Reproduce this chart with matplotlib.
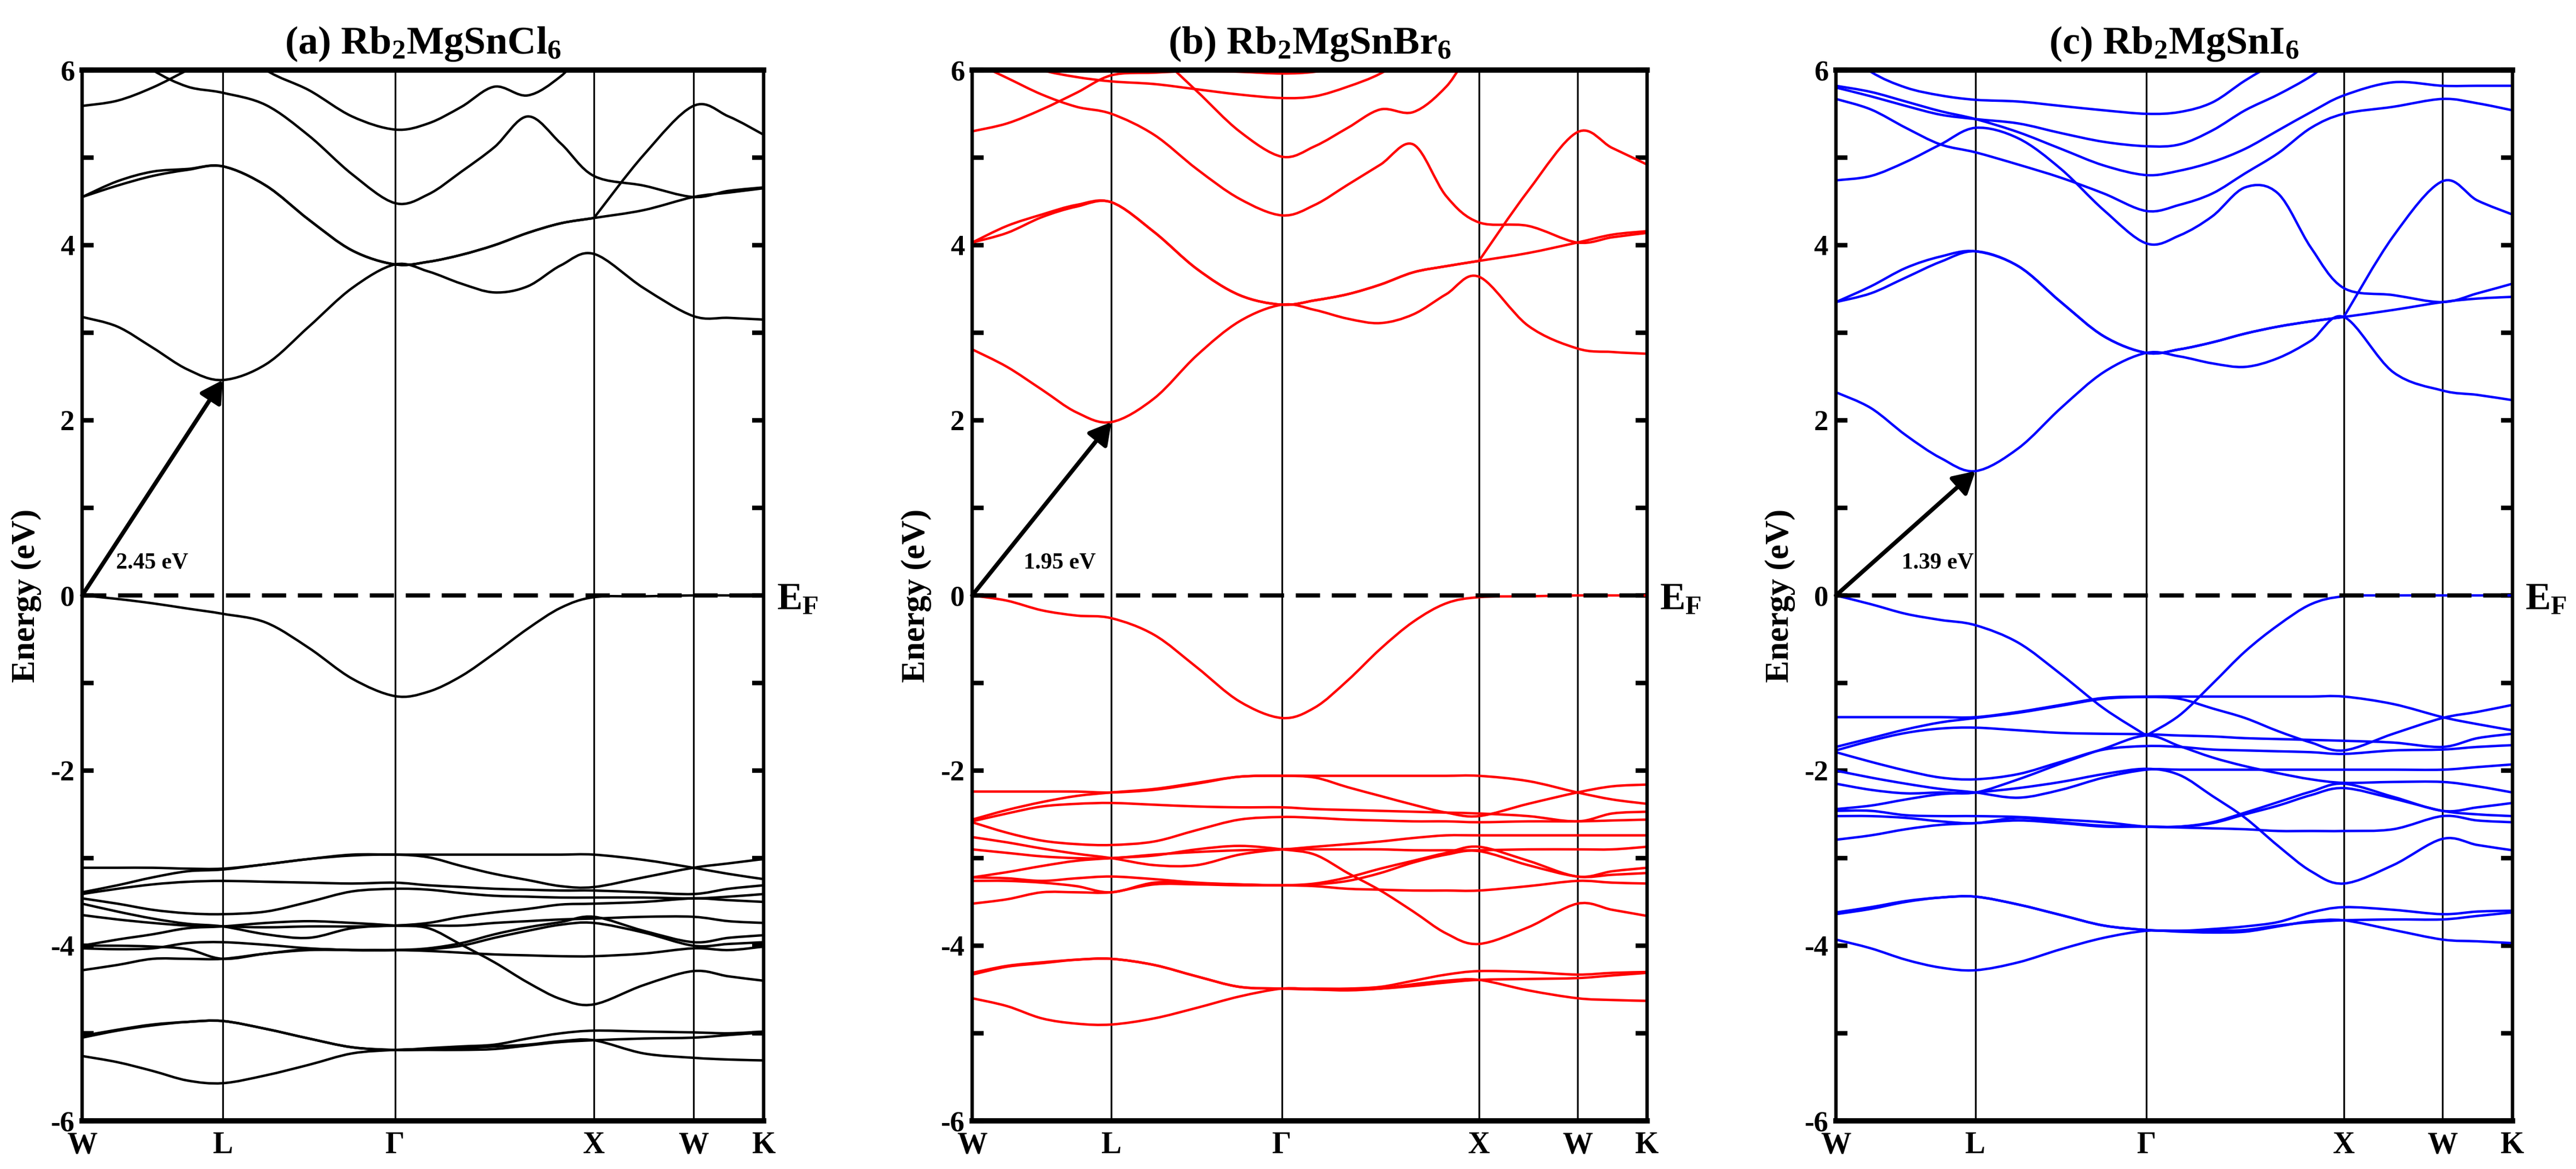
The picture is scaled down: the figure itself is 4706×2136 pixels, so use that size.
import matplotlib
matplotlib.use('Agg')
import matplotlib.pyplot as plt
from matplotlib.path import Path
from matplotlib.patches import PathPatch
from matplotlib.ticker import MultipleLocator
import numpy as np

plt.rcParams['font.family'] = ['Liberation Serif', 'DejaVu Serif']
plt.rcParams['font.weight'] = 'bold'
plt.rcParams['mathtext.fontset'] = 'custom'
plt.rcParams['mathtext.rm'] = 'Liberation Serif:bold'
plt.rcParams['mathtext.it'] = 'Liberation Serif:bold'
plt.rcParams['mathtext.bf'] = 'Liberation Serif:bold'
plt.rcParams['axes.unicode_minus'] = False

# k-path W-L-G-X-W-K (2pi/a units), sampling points
k_grid = [0.000, 0.177, 0.354, 0.530, 0.707,
          0.924, 1.140, 1.357, 1.573,
          1.740, 1.907, 2.073, 2.240, 2.407, 2.573,
          2.823, 3.073,
          3.250, 3.427]
k_ticks = [0.000, 0.707, 1.573, 2.573, 3.073, 3.427]
k_labels = ['W', 'L', '\u0393', 'X', 'W', 'K']

# ---------------- (a) Rb2MgSnCl6 ----------------
cl_cond = [
    [3.18, 3.07, 2.83, 2.58, 2.46, 2.64, 3.07, 3.51, 3.78, 3.70, 3.56, 3.46, 3.53, 3.77, 3.90, 3.51, 3.19, 3.17, 3.15],
    [4.55, 4.68, 4.79, 4.86, 4.90, 4.68, 4.29, 3.94, 3.78, 3.81, 3.89, 4.00, 4.14, 4.25, 4.31, 4.40, 4.55, 4.60, 4.65],
    [4.55, 4.73, 4.84, 4.87, 4.90, 4.68, 4.29, 3.94, 3.78, 3.81, 3.89, 4.00, 4.14, 4.25, 4.31, 5.03, 5.59, 5.47, 5.26],
    [6.60, 6.30, 6.00, 5.81, 5.74, 5.60, 5.25, 4.81, 4.48, 4.58, 4.84, 5.12, 5.47, 5.16, 4.79, 4.68, 4.55, 4.62, 4.66],
    [5.59, 5.65, 5.80, 6.00, 6.20, 6.40, 6.50, 6.50, 6.50, 6.50, 6.50, 6.50, 6.50, 6.50, 6.50, 6.50, 6.50, 6.50, 6.50],
    [6.60, 6.60, 6.60, 6.50, 6.40, 6.00, 5.77, 5.47, 5.32, 5.39, 5.58, 5.81, 5.71, 5.93, 6.30, 6.50, 6.50, 6.50, 6.50],
]
cl_vbm = [0.00, -0.04, -0.09, -0.15, -0.21, -0.31, -0.60, -0.95, -1.15, -1.10, -0.92, -0.66, -0.38, -0.14, -0.02, -0.01, 0.00, 0.00, 0.00]
cl_val = [
    [-3.11, -3.11, -3.11, -3.12, -3.12, -3.07, -3.01, -2.96, -2.96, -2.96, -2.96, -2.96, -2.96, -2.96, -2.96, -3.02, -3.11, -3.18, -3.24],
    [-3.39, -3.31, -3.22, -3.15, -3.13, -3.07, -3.01, -2.97, -2.96, -2.99, -3.09, -3.18, -3.25, -3.32, -3.33, -3.22, -3.11, -3.06, -3.01],
    [-3.41, -3.35, -3.30, -3.27, -3.26, -3.27, -3.28, -3.29, -3.28, -3.31, -3.33, -3.35, -3.36, -3.37, -3.37, -3.39, -3.41, -3.35, -3.31],
    [-3.46, -3.52, -3.59, -3.63, -3.64, -3.61, -3.50, -3.38, -3.35, -3.36, -3.40, -3.43, -3.44, -3.45, -3.45, -3.45, -3.46, -3.44, -3.41],
    [-3.52, -3.61, -3.69, -3.75, -3.78, -3.87, -3.91, -3.80, -3.77, -3.77, -3.77, -3.74, -3.72, -3.70, -3.69, -3.67, -3.67, -3.72, -3.74],
    [-4.00, -3.93, -3.87, -3.80, -3.78, -3.74, -3.72, -3.74, -3.77, -3.80, -3.99, -4.19, -4.42, -4.61, -4.67, -4.45, -4.29, -4.35, -4.40],
    [-4.00, -4.00, -4.01, -4.04, -4.15, -4.09, -4.04, -4.05, -4.05, -4.04, -4.00, -3.91, -3.83, -3.76, -3.74, -3.85, -4.00, -3.98, -3.96],
    [-4.28, -4.22, -4.15, -4.15, -4.15, -4.09, -4.05, -4.05, -4.05, -4.06, -4.08, -4.10, -4.11, -4.12, -4.12, -4.09, -4.03, -4.05, -4.01],
    [-4.03, -4.04, -4.03, -3.97, -3.96, -3.99, -4.03, -4.05, -4.05, -4.03, -3.97, -3.87, -3.79, -3.73, -3.67, -3.83, -3.96, -3.91, -3.88],
    [-3.65, -3.70, -3.74, -3.77, -3.78, -3.79, -3.78, -3.78, -3.77, -3.74, -3.67, -3.62, -3.58, -3.53, -3.52, -3.50, -3.46, -3.48, -3.50],
    [-5.05, -4.97, -4.91, -4.87, -4.86, -4.95, -5.06, -5.16, -5.19, -5.17, -5.15, -5.13, -5.06, -5.00, -4.97, -4.98, -4.99, -5.00, -4.98],
    [-5.26, -5.33, -5.43, -5.54, -5.57, -5.48, -5.36, -5.23, -5.19, -5.18, -5.17, -5.15, -5.13, -5.09, -5.08, -5.23, -5.28, -5.30, -5.31],
    [-5.03, -4.96, -4.90, -4.87, -4.86, -4.95, -5.06, -5.16, -5.19, -5.19, -5.19, -5.18, -5.14, -5.10, -5.08, -5.06, -5.05, -5.02, -4.99],
]

# ---------------- (b) Rb2MgSnBr6 ----------------
br_cond = [
    [2.81, 2.61, 2.35, 2.09, 1.98, 2.25, 2.74, 3.13, 3.32, 3.26, 3.16, 3.11, 3.21, 3.44, 3.64, 3.08, 2.82, 2.78, 2.76],
    [4.03, 4.22, 4.35, 4.46, 4.49, 4.15, 3.73, 3.43, 3.32, 3.37, 3.44, 3.55, 3.69, 3.76, 3.82, 3.91, 4.03, 4.12, 4.16],
    [4.03, 4.14, 4.32, 4.44, 4.49, 4.15, 3.73, 3.43, 3.32, 3.37, 3.44, 3.55, 3.69, 3.76, 3.82, 4.62, 5.29, 5.11, 4.92],
    [6.10, 5.91, 5.72, 5.58, 5.50, 5.26, 4.87, 4.53, 4.34, 4.46, 4.69, 4.92, 5.15, 4.56, 4.26, 4.22, 4.03, 4.09, 4.14],
    [6.60, 6.60, 6.60, 6.60, 6.50, 6.20, 5.76, 5.30, 5.01, 5.13, 5.34, 5.55, 5.52, 5.81, 6.30, 6.50, 6.50, 6.50, 6.50],
    [5.30, 5.39, 5.55, 5.74, 5.94, 5.97, 5.99, 5.98, 5.96, 5.98, 6.05, 6.20, 6.50, 6.50, 6.50, 6.50, 6.50, 6.50, 6.50],
    [6.30, 6.15, 6.00, 5.92, 5.87, 5.84, 5.78, 5.72, 5.68, 5.70, 5.81, 5.96, 6.20, 6.50, 6.50, 6.50, 6.50, 6.50, 6.50],
]
br_vbm = [0.00, -0.06, -0.17, -0.23, -0.26, -0.45, -0.82, -1.21, -1.40, -1.28, -0.97, -0.61, -0.30, -0.09, -0.02, -0.01, 0.00, 0.00, 0.00]
br_val = [
    [-2.24, -2.24, -2.24, -2.24, -2.25, -2.22, -2.15, -2.07, -2.06, -2.06, -2.06, -2.06, -2.06, -2.06, -2.06, -2.12, -2.25, -2.33, -2.38],
    [-2.56, -2.45, -2.36, -2.29, -2.25, -2.21, -2.14, -2.07, -2.06, -2.08, -2.19, -2.29, -2.39, -2.48, -2.52, -2.38, -2.25, -2.18, -2.16],
    [-2.58, -2.49, -2.41, -2.38, -2.37, -2.39, -2.41, -2.42, -2.42, -2.44, -2.45, -2.46, -2.47, -2.48, -2.49, -2.52, -2.58, -2.49, -2.47],
    [-2.59, -2.71, -2.80, -2.84, -2.85, -2.81, -2.68, -2.56, -2.53, -2.54, -2.56, -2.57, -2.58, -2.58, -2.59, -2.58, -2.58, -2.57, -2.56],
    [-2.76, -2.82, -2.89, -2.95, -3.00, -3.08, -3.08, -2.96, -2.90, -2.90, -2.90, -2.90, -2.91, -2.91, -2.91, -2.90, -2.90, -2.90, -2.87],
    [-3.22, -3.16, -3.09, -3.03, -3.00, -2.97, -2.90, -2.86, -2.90, -2.96, -3.17, -3.37, -3.61, -3.86, -3.98, -3.79, -3.52, -3.59, -3.66],
    [-3.26, -3.26, -3.28, -3.32, -3.39, -3.28, -3.29, -3.30, -3.31, -3.30, -3.26, -3.17, -3.05, -2.96, -2.92, -3.08, -3.21, -3.19, -3.17],
    [-3.52, -3.47, -3.39, -3.39, -3.39, -3.30, -3.30, -3.31, -3.31, -3.32, -3.35, -3.36, -3.37, -3.37, -3.37, -3.32, -3.26, -3.28, -3.29],
    [-3.22, -3.23, -3.26, -3.23, -3.21, -3.24, -3.28, -3.30, -3.31, -3.29, -3.22, -3.12, -3.03, -2.94, -2.87, -3.03, -3.21, -3.15, -3.11],
    [-2.90, -2.94, -2.98, -3.00, -3.00, -2.96, -2.93, -2.91, -2.90, -2.87, -2.84, -2.81, -2.77, -2.74, -2.74, -2.74, -2.74, -2.74, -2.74],
    [-4.33, -4.24, -4.20, -4.16, -4.15, -4.22, -4.35, -4.47, -4.49, -4.49, -4.49, -4.47, -4.40, -4.33, -4.29, -4.30, -4.33, -4.31, -4.30],
    [-4.60, -4.69, -4.83, -4.89, -4.90, -4.83, -4.71, -4.58, -4.49, -4.50, -4.51, -4.49, -4.44, -4.40, -4.39, -4.51, -4.60, -4.62, -4.63],
    [-4.31, -4.23, -4.19, -4.16, -4.15, -4.22, -4.35, -4.47, -4.49, -4.50, -4.50, -4.49, -4.46, -4.42, -4.39, -4.38, -4.37, -4.34, -4.31],
]

# ---------------- (c) Rb2MgSnI6 ----------------
i_cond = [
    [2.32, 2.14, 1.83, 1.57, 1.42, 1.68, 2.14, 2.55, 2.77, 2.73, 2.65, 2.61, 2.71, 2.91, 3.18, 2.55, 2.34, 2.29, 2.23],
    [3.35, 3.53, 3.74, 3.87, 3.93, 3.76, 3.35, 2.96, 2.77, 2.81, 2.89, 2.99, 3.07, 3.13, 3.18, 3.26, 3.35, 3.39, 3.41],
    [3.35, 3.45, 3.63, 3.81, 3.93, 3.76, 3.35, 2.96, 2.77, 2.81, 2.89, 2.99, 3.07, 3.13, 3.18, 4.10, 4.73, 4.51, 4.35],
    [4.74, 4.79, 4.95, 5.15, 5.34, 5.22, 4.87, 4.40, 4.02, 4.11, 4.33, 4.66, 4.59, 3.97, 3.51, 3.43, 3.35, 3.45, 3.56],
    [5.67, 5.55, 5.34, 5.15, 5.06, 4.92, 4.77, 4.59, 4.39, 4.46, 4.59, 4.82, 5.05, 5.34, 5.50, 5.58, 5.67, 5.62, 5.54],
    [5.82, 5.75, 5.64, 5.53, 5.44, 5.29, 5.10, 4.91, 4.80, 4.85, 4.95, 5.10, 5.31, 5.52, 5.71, 5.86, 5.82, 5.82, 5.82],
    [5.80, 5.70, 5.59, 5.49, 5.44, 5.39, 5.28, 5.18, 5.13, 5.15, 5.31, 5.54, 5.72, 5.93, 6.20, 6.40, 6.50, 6.50, 6.50],
    [6.30, 5.98, 5.80, 5.71, 5.66, 5.64, 5.59, 5.54, 5.50, 5.52, 5.63, 5.88, 6.10, 6.30, 6.50, 6.50, 6.50, 6.50, 6.50],
]
i_vbm = [0.00, -0.10, -0.21, -0.28, -0.34, -0.54, -0.90, -1.29, -1.60, -1.37, -1.01, -0.64, -0.34, -0.10, -0.01, 0.00, 0.00, 0.00, 0.00]
i_val = [
    [-1.39, -1.39, -1.39, -1.39, -1.39, -1.33, -1.25, -1.17, -1.155, -1.155, -1.155, -1.155, -1.155, -1.155, -1.155, -1.24, -1.39, -1.47, -1.54],
    [-1.73, -1.63, -1.53, -1.45, -1.40, -1.34, -1.26, -1.18, -1.16, -1.18, -1.29, -1.40, -1.55, -1.68, -1.77, -1.58, -1.40, -1.33, -1.25],
    [-1.77, -1.66, -1.57, -1.52, -1.51, -1.54, -1.57, -1.58, -1.585, -1.60, -1.61, -1.63, -1.64, -1.65, -1.66, -1.68, -1.73, -1.63, -1.58],
    [-1.79, -1.90, -2.00, -2.08, -2.10, -2.04, -1.90, -1.76, -1.72, -1.73, -1.76, -1.77, -1.78, -1.79, -1.81, -1.77, -1.76, -1.73, -1.71],
    [-2.00, -2.08, -2.15, -2.21, -2.25, -2.31, -2.22, -2.08, -1.99, -1.99, -1.99, -1.99, -1.99, -1.99, -1.99, -1.99, -1.99, -1.96, -1.93],
    [-2.44, -2.40, -2.33, -2.27, -2.25, -2.20, -2.13, -2.04, -1.98, -2.05, -2.29, -2.54, -2.86, -3.15, -3.29, -3.08, -2.78, -2.85, -2.91],
    [-2.52, -2.52, -2.54, -2.58, -2.60, -2.54, -2.59, -2.63, -2.64, -2.64, -2.59, -2.48, -2.36, -2.24, -2.15, -2.30, -2.46, -2.42, -2.37],
    [-2.79, -2.74, -2.67, -2.62, -2.60, -2.57, -2.60, -2.64, -2.64, -2.65, -2.66, -2.67, -2.69, -2.69, -2.69, -2.67, -2.52, -2.57, -2.59],
    [-2.46, -2.46, -2.51, -2.52, -2.52, -2.53, -2.56, -2.59, -2.64, -2.64, -2.60, -2.50, -2.40, -2.28, -2.20, -2.32, -2.46, -2.50, -2.52],
    [-2.15, -2.22, -2.26, -2.25, -2.25, -2.10, -1.92, -1.75, -1.60, -1.72, -1.85, -1.95, -2.03, -2.10, -2.14, -2.13, -2.13, -2.18, -2.25],
    [-3.64, -3.58, -3.50, -3.45, -3.44, -3.53, -3.65, -3.77, -3.82, -3.83, -3.81, -3.78, -3.73, -3.62, -3.56, -3.59, -3.64, -3.61, -3.60],
    [-3.93, -4.03, -4.16, -4.25, -4.28, -4.19, -4.04, -3.91, -3.83, -3.84, -3.85, -3.84, -3.78, -3.72, -3.71, -3.82, -3.93, -3.95, -3.97],
    [-3.62, -3.56, -3.49, -3.45, -3.44, -3.53, -3.65, -3.77, -3.82, -3.83, -3.83, -3.82, -3.77, -3.73, -3.71, -3.70, -3.70, -3.66, -3.62],
]

titles = [r'(a) Rb$_{2}$MgSnCl$_{6}$', r'(b) Rb$_{2}$MgSnBr$_{6}$', r'(c) Rb$_{2}$MgSnI$_{6}$']
colors = ['#000000', '#ff0000', '#0000ff']
gap_text = ['2.45 eV', '1.95 eV', '1.39 eV']
all_cond = [cl_cond, br_cond, i_cond]
all_vbm = [cl_vbm, br_vbm, i_vbm]
all_val = [cl_val, br_val, i_val]


def smooth_path(xs, ys, breaks=()):
    # Catmull-Rom style bezier through the read points, split at kinks
    xs = np.asarray(xs, float)
    ys = np.asarray(ys, float)
    cuts = [0] + sorted(breaks) + [len(xs) - 1]
    verts, codes = [], []
    for a, b in zip(cuts[:-1], cuts[1:]):
        p = np.column_stack([xs[a:b + 1], ys[a:b + 1]])
        ext = np.vstack([p[0], p, p[-1]])
        verts.append(p[0])
        codes.append(Path.MOVETO)
        for i in range(len(p) - 1):
            p0, p1, p2, p3 = ext[i], ext[i + 1], ext[i + 2], ext[i + 3]
            verts += [p1 + (p2 - p0) / 6.0, p2 - (p3 - p1) / 6.0, p2]
            codes += [Path.CURVE4] * 3
    return Path(verts, codes)


fig = plt.figure(figsize=(47.06, 21.36), dpi=100)
lefts = [0.0319, 0.3774, 0.7127]
widths = [0.2646, 0.2620, 0.2626]
label_frac = [0.24, 0.37, 0.47]

for p in range(3):
    ax = fig.add_axes([lefts[p], 0.0412, widths[p], 0.8989])
    col = colors[p]
    for kx in k_ticks[1:-1]:
        ax.axvline(kx, color='k', lw=2.3, zorder=1)

    for n, band in enumerate(all_cond[p]):
        brk = [14] if n == 2 else []
        ax.add_patch(PathPatch(smooth_path(k_grid, band, brk), fill=False,
                               edgecolor=col, lw=3.2, zorder=2))
    vb_brk = [8] if p == 2 else []
    ax.add_patch(PathPatch(smooth_path(k_grid, all_vbm[p], vb_brk), fill=False,
                           edgecolor=col, lw=3.2, zorder=2))
    for band in all_val[p]:
        ax.add_patch(PathPatch(smooth_path(k_grid, band), fill=False,
                               edgecolor=col, lw=3.2, zorder=2))

    ax.axhline(0, color='k', lw=5.5, ls=(0, (5.8, 2.8)), zorder=3)

    cbm = min(all_cond[p][0])
    ax.annotate('', xy=(k_ticks[1], cbm), xytext=(0, 0),
                arrowprops=dict(arrowstyle='-|>,head_length=0.8,head_width=0.45',
                                color='k', lw=5.5, shrinkA=0, shrinkB=0,
                                mutation_scale=30), zorder=4)
    ax.text(label_frac[p] * k_ticks[1], 0.37, gap_text[p], fontsize=30,
            fontweight='bold', ha='left', va='center', zorder=4)

    ax.text(1.019, -0.16, r'E$_{\mathrm{F}}$', transform=ax.get_yaxis_transform(),
            fontsize=50, fontweight='bold', ha='left', va='baseline')

    ax.set_xlim(k_grid[0], k_grid[-1])
    ax.set_ylim(-6, 6)
    ax.set_xticks(k_ticks)
    ax.set_xticklabels(k_labels)
    ax.yaxis.set_major_locator(MultipleLocator(2))
    ax.yaxis.set_minor_locator(MultipleLocator(1))
    ax.tick_params(axis='x', length=0, labelsize=40, pad=14)
    ax.tick_params(axis='y', which='both', direction='in', left=True, right=True,
                   length=15, width=6, labelsize=38, pad=10)
    for lab in ax.get_xticklabels() + ax.get_yticklabels():
        lab.set_fontweight('bold')
    for side in ['left', 'right']:
        ax.spines[side].set_linewidth(4.5)
    for side in ['top', 'bottom']:
        ax.spines[side].set_linewidth(7)
    ax.set_ylabel('Energy (eV)', fontsize=44, fontweight='bold', labelpad=12)
    ax.set_title(titles[p], fontsize=52, fontweight='bold', pad=22)

fig.savefig('out.png', dpi=100)
